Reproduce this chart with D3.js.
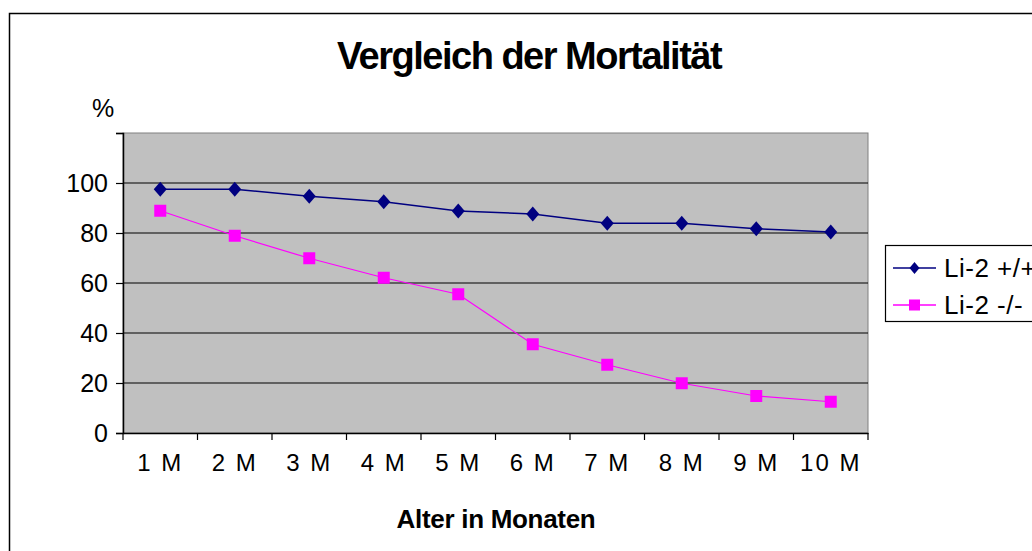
<!DOCTYPE html>
<html><head><meta charset="utf-8">
<script src="https://cdn.jsdelivr.net/npm/d3@7"></script>
<style>body{margin:0;background:#fff;} svg{display:block;font-family:Arial,"Liberation Sans",sans-serif;}</style>
</head><body>
<svg id="c" width="1032" height="551"></svg>
<script>
const categories = ["1 M","2 M","3 M","4 M","5 M","6 M","7 M","8 M","9 M","10 M"];
const seriesNames = ["Li-2 +/+","Li-2 -/-"];
const wildType = [97.5,97.5,94.7,92.5,88.8,87.6,83.9,83.9,81.7,80.4];
const knockout = [88.9,78.9,69.9,62.1,55.5,35.5,27.3,19.9,14.8,12.5];
const yTicks = [0,20,40,60,80,100];

const svg = d3.select("#c");
svg.append("rect").attr("x",9.5).attr("y",13.5).attr("width",1040).attr("height",560)
  .attr("fill","#fff").attr("stroke","#000").attr("stroke-width",1.5);

const L=123,R=868,T=133,B=433;
const x = d3.scaleBand().domain(categories).range([L,R]);
const y = d3.scaleLinear().domain([0,120]).range([B,T]);

svg.append("rect").attr("x",L).attr("y",T).attr("width",R-L).attr("height",B-T)
  .attr("fill","#c0c0c0").attr("stroke","#808080").attr("stroke-width",1);

svg.append("g").selectAll("line").data(yTicks.filter(d=>d>0)).join("line")
  .attr("x1",L).attr("x2",R).attr("y1",d=>y(d)).attr("y2",d=>y(d))
  .attr("stroke","#000").attr("stroke-width",1.2);

const ya = svg.append("g").attr("transform",`translate(${L},0)`)
  .call(d3.axisLeft(y).tickValues([0,20,40,60,80,100,120]).tickSize(7).tickPadding(8)
  .tickFormat(d=>d===120?"":d));
ya.select(".domain").attr("stroke","#000").attr("stroke-width",1.5);
ya.selectAll(".tick line").attr("stroke","#000").attr("stroke-width",1.2);
ya.selectAll("text").attr("font-size",25).attr("fill","#000").attr("font-family","Arial,'Liberation Sans',sans-serif");

const xa = svg.append("g").attr("transform",`translate(0,${B})`)
  .call(d3.axisBottom(x).tickSize(0).tickPadding(0));
xa.select(".domain").attr("stroke","#000").attr("stroke-width",1.5);
xa.selectAll("text").attr("font-size",24).attr("fill","#000").attr("dy","1.6em")
  .attr("letter-spacing","2px").attr("font-family","Arial,'Liberation Sans',sans-serif");
svg.append("g").selectAll("line").data(categories.map(c=>x(c)).concat([R])).join("line")
  .attr("x1",d=>d).attr("x2",d=>d).attr("y1",B).attr("y2",B+7).attr("stroke","#000").attr("stroke-width",1.2);

const cx = c=>x(c)+x.bandwidth()/2;
const line = d3.line().x((d,i)=>cx(categories[i])).y(d=>y(d));

svg.append("path").datum(wildType).attr("d",line).attr("fill","none").attr("stroke","#000080").attr("stroke-width",1.5);
svg.append("path").datum(knockout).attr("d",line).attr("fill","none").attr("stroke","#ff00ff").attr("stroke-width",1.2);

const diamondPath = (w,h)=>`M0,${-h}L${w},0L0,${h}L${-w},0Z`;
svg.append("g").selectAll("path").data(wildType).join("path")
  .attr("d",diamondPath(6.5,7.5)).attr("transform",(d,i)=>`translate(${cx(categories[i])},${y(d)})`).attr("fill","#000080");
svg.append("g").selectAll("rect").data(knockout).join("rect")
  .attr("x",(d,i)=>cx(categories[i])-6).attr("y",d=>y(d)-6).attr("width",12).attr("height",12).attr("fill","#ff00ff");

svg.append("text").attr("x",529).attr("y",69).attr("text-anchor","middle")
  .attr("font-size",38).attr("font-weight","bold").attr("letter-spacing","-1.5px").text("Vergleich der Mortalität");
svg.append("text").attr("x",103).attr("y",117).attr("text-anchor","middle").attr("font-size",25).text("%");
svg.append("text").attr("x",496).attr("y",528).attr("text-anchor","middle")
  .attr("font-size",26).attr("font-weight","bold").attr("letter-spacing","-0.3px").text("Alter in Monaten");

const lg = svg.append("g");
lg.append("rect").attr("x",885.5).attr("y",245.5).attr("width",160).attr("height",76).attr("fill","#fff").attr("stroke","#000").attr("stroke-width",1.2);
const legendItems = [{name:seriesNames[0],color:"#000080",sym:"d",ly:268},{name:seriesNames[1],color:"#ff00ff",sym:"s",ly:305}];
legendItems.forEach(it=>{
  lg.append("line").attr("x1",893).attr("x2",936).attr("y1",it.ly).attr("y2",it.ly).attr("stroke",it.color).attr("stroke-width",1.5);
  if(it.sym==="d") lg.append("path").attr("d",diamondPath(5,6)).attr("transform",`translate(914.5,${it.ly})`).attr("fill",it.color);
  else lg.append("rect").attr("x",909).attr("y",it.ly-5.5).attr("width",11).attr("height",11).attr("fill",it.color);
  lg.append("text").attr("x",944).attr("y",it.ly+9).attr("font-size",26).attr("letter-spacing","0.5px").text(it.name);
});
</script>
</body></html>
